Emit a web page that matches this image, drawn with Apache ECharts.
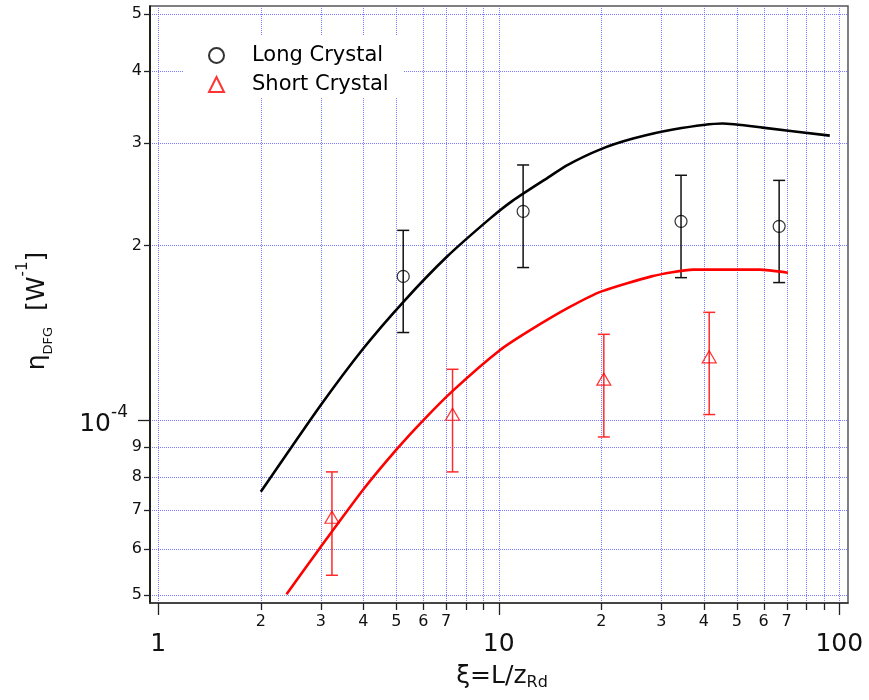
<!DOCTYPE html>
<html><head><meta charset="utf-8">
<script src="https://cdn.jsdelivr.net/npm/echarts@6/dist/echarts.min.js"></script>
<style>html,body{margin:0;padding:0;background:#fff}#c{width:869px;height:700px}</style>
</head><body><div id="c"></div>
<script>
// ---------- data ----------
const longCurveX = [2.0, 2.984, 4.0, 5.24, 7.026, 9.42, 11.02, 14.13, 15.8, 19.8, 24.8, 32.5, 45.4, 59.6, 93.8];
const longCurveY = [0.753e-4, 1.057e-4, 1.329e-4, 1.598e-4, 1.910e-4, 2.224e-4, 2.391e-4, 2.63e-4, 2.745e-4, 2.924e-4, 3.054e-4, 3.166e-4, 3.242e-4, 3.19e-4, 3.09e-4];
const shortCurveX = [2.38, 2.984, 4.0, 5.01, 6.0, 7.35, 10.07, 12.34, 16.17, 20.04, 28.1, 37.2, 58.4, 70.7];
const shortCurveY = [0.502e-4, 0.603e-4, 0.760e-4, 0.891e-4, 1.0e-4, 1.126e-4, 1.32e-4, 1.428e-4, 1.567e-4, 1.667e-4, 1.769e-4, 1.817e-4, 1.817e-4, 1.795e-4];

const longX   = [5.24, 11.79, 34.3, 66.6];
const longY   = [1.769e-4, 2.289e-4, 2.20e-4, 2.157e-4];
const longLo  = [1.416e-4, 1.832e-4, 1.760e-4, 1.726e-4];
const longHi  = [2.123e-4, 2.751e-4, 2.641e-4, 2.588e-4];

const shortX  = [3.236, 7.315, 20.35, 41.5];
const shortY  = [0.681e-4, 1.024e-4, 1.177e-4, 1.286e-4];
const shortLo = [0.541e-4, 0.815e-4, 0.936e-4, 1.023e-4];
const shortHi = [0.815e-4, 1.224e-4, 1.406e-4, 1.534e-4];

// ticks
const xTickMajor = [1, 10, 100];
const xTickMinor = [2, 3, 4, 5, 6, 7, 8, 9, 20, 30, 40, 50, 60, 70, 80, 90];
const xMinorLabeled = [2, 3, 4, 5, 6, 7, 20, 30, 40, 50, 60, 70];
const yTickMajor = [1e-4];
const yTickMinor = [5e-5, 6e-5, 7e-5, 8e-5, 9e-5, 2e-4, 3e-4, 4e-4, 5e-4];

const X_MIN = 0.9454, X_MAX = 106.1, Y_MIN = 4.847e-5, Y_MAX = 5.166e-4;
const FONT = 'DejaVu Sans';

const zip = (a, b) => a.map((v, i) => [v, b[i]]);
const zip3 = (a, b, c) => a.map((v, i) => [v, b[i], c[i]]);

function errBar(color) {
  return function (params, api) {
    const x = api.value(0), lo = api.value(1), hi = api.value(2);
    const p1 = api.coord([x, hi]), p2 = api.coord([x, lo]);
    const w = 6;
    const st = { stroke: color, lineWidth: 1.5 };
    return { type: 'group', children: [
      { type: 'line', shape: { x1: p1[0], y1: p1[1], x2: p2[0], y2: p2[1] }, style: st },
      { type: 'line', shape: { x1: p1[0] - w, y1: p1[1], x2: p1[0] + w, y2: p1[1] }, style: st },
      { type: 'line', shape: { x1: p2[0] - w, y1: p2[1], x2: p2[0] + w, y2: p2[1] }, style: st }
    ]};
  };
}

const chart = echarts.init(document.getElementById('c'), null, { width: 869, height: 700 });
const option = {
  animation: false,
  backgroundColor: '#fff',
  grid: { left: 150, top: 6, right: 21, bottom: 97, show: true, borderColor: '#555', borderWidth: 1.5, backgroundColor: 'transparent' },
  xAxis: { type: 'log', logBase: 10, min: X_MIN, max: X_MAX,
    axisLine: { show: true, lineStyle: { color: '#333', width: 1.5 } },
    axisTick: { show: false }, axisLabel: { show: false }, splitLine: { show: false } },
  yAxis: { type: 'log', logBase: 10, min: Y_MIN, max: Y_MAX,
    axisLine: { show: true, lineStyle: { color: '#000', width: 1.5 } },
    axisTick: { show: false }, axisLabel: { show: false }, splitLine: { show: false } },
  legend: {
    orient: 'vertical', left: 183, top: 35, padding: [10, 15, 3, 25], itemGap: 8,
    itemWidth: 15, itemHeight: 15, backgroundColor: '#fff', selectedMode: false,
    textStyle: { fontFamily: FONT, fontSize: 21, color: '#000', lineHeight: 21, padding: [0, 0, 0, 23] },
    data: [{ name: 'Long Crystal', icon: 'circle' }, { name: 'Short Crystal', icon: 'triangle' }]
  },
  series: [
    { name: 'longErr', type: 'custom', renderItem: errBar('#111'), encode: { x: 0, y: [1, 2] }, data: zip3(longX, longLo, longHi), z: 3 },
    { name: 'shortErr', type: 'custom', renderItem: errBar('#ff2a2a'), encode: { x: 0, y: [1, 2] }, data: zip3(shortX, shortLo, shortHi), z: 3 },
    { name: 'longCurve', type: 'line', data: zip(longCurveX, longCurveY), symbol: 'none', smooth: 0.2,
      lineStyle: { color: '#000', width: 2.6 }, z: 4 },
    { name: 'shortCurve', type: 'line', data: zip(shortCurveX, shortCurveY), symbol: 'none', smooth: 0.2,
      lineStyle: { color: '#ff0000', width: 2.6 }, z: 4 },
    { name: 'Long Crystal', type: 'scatter', data: zip(longX, longY), symbol: 'circle', symbolSize: 12,
      itemStyle: { color: 'rgba(0,0,0,0)', borderColor: '#000', borderWidth: 1.2 }, z: 5 },
    { name: 'Short Crystal', type: 'scatter', data: zip(shortX, shortY), symbol: 'triangle', symbolSize: [14, 12],
      itemStyle: { color: 'rgba(0,0,0,0)', borderColor: '#ff0000', borderWidth: 1.2 }, z: 5 }
  ]
};
chart.setOption(option);

// ---------- axes decorations computed through the chart's scales ----------
const cx = v => chart.convertToPixel({ xAxisIndex: 0 }, v);
const cy = v => chart.convertToPixel({ yAxisIndex: 0 }, v);
const L = cx(X_MIN), R = cx(X_MAX), T = cy(Y_MAX), B = cy(Y_MIN);
const digit = v => String(Math.round(v / Math.pow(10, Math.floor(Math.log10(v) + 1e-9))));
const g = [];
const gridStyle = { stroke: 'rgba(90,90,255,0.8)', lineWidth: 1, lineDash: [1, 1] };
const tickStyle = { stroke: '#222', lineWidth: 1.3 };
const sharp = p => Math.round(p) + 0.5;

xTickMajor.concat(xTickMinor).forEach(v => {
  const X = sharp(cx(v));
  g.push({ type: 'line', silent: true, z: 0, shape: { x1: X, y1: T, x2: X, y2: B }, style: gridStyle });
  const len = xTickMajor.includes(v) ? 12 : 7;
  g.push({ type: 'line', silent: true, z: 10, shape: { x1: X, y1: B, x2: X, y2: B + len }, style: tickStyle });
});
yTickMajor.concat(yTickMinor).forEach(v => {
  const Y = sharp(cy(v));
  g.push({ type: 'line', silent: true, z: 0, shape: { x1: L, y1: Y, x2: R, y2: Y }, style: gridStyle });
  const len = yTickMajor.includes(v) ? 12 : 6;
  g.push({ type: 'line', silent: true, z: 10, shape: { x1: L - len, y1: Y, x2: L, y2: Y }, style: tickStyle });
});
xMinorLabeled.forEach(v => {
  g.push({ type: 'text', silent: true, z: 10, x: cx(v), y: B + 19,
    style: { text: digit(v), font: '16px "' + FONT + '"', fill: '#111', align: 'center', verticalAlign: 'middle' } });
});
xTickMajor.forEach(v => {
  g.push({ type: 'text', silent: true, z: 10, x: cx(v), y: B + 41,
    style: { text: String(v), font: '25px "' + FONT + '"', fill: '#111', align: 'center', verticalAlign: 'middle' } });
});
yTickMinor.forEach(v => {
  g.push({ type: 'text', silent: true, z: 10, x: L - 8, y: cy(v),
    style: { text: digit(v), font: '16px "' + FONT + '"', fill: '#111', align: 'right', verticalAlign: 'middle' } });
});
yTickMajor.forEach(v => {
  const Y = cy(v);
  const ex = Math.round(Math.log10(v));
  g.push({ type: 'text', silent: true, z: 10, x: L - 39, y: Y + 4,
    style: { text: '10', font: '25px "' + FONT + '"', fill: '#111', align: 'right', verticalAlign: 'middle' } });
  g.push({ type: 'text', silent: true, z: 10, x: L - 39, y: Y - 8,
    style: { text: String(ex), font: '17px "' + FONT + '"', fill: '#111', align: 'left', verticalAlign: 'middle' } });
});
// axis titles
g.push({ type: 'text', silent: true, z: 10, x: (L + R) / 2 + 3, y: B + 73,
  style: { text: '{m|ξ=L/z}{s|Rd}', align: 'center', verticalAlign: 'middle', fill: '#111',
    rich: { m: { fontFamily: FONT, fontSize: 25, lineHeight: 30, verticalAlign: 'middle' },
            s: { fontFamily: FONT, fontSize: 16, lineHeight: 16, verticalAlign: 'bottom' } } } });
g.push({ type: 'text', silent: true, z: 10, x: 37, y: 311, rotation: Math.PI / 2,
  style: { text: '{m|η}{s|DFG}{m|  [W}{p|-1}{m|]}', align: 'center', verticalAlign: 'middle', fill: '#111',
    rich: { m: { fontFamily: FONT, fontSize: 25, lineHeight: 54, verticalAlign: 'middle' },
            s: { fontFamily: FONT, fontSize: 13, lineHeight: 13, verticalAlign: 'bottom', padding: [0, 0, 9, 0] },
            p: { fontFamily: FONT, fontSize: 15, lineHeight: 15, verticalAlign: 'top', padding: [6, 0, 0, 0] } } } });

chart.setOption({ graphic: { elements: g } });
</script>
</body></html>
